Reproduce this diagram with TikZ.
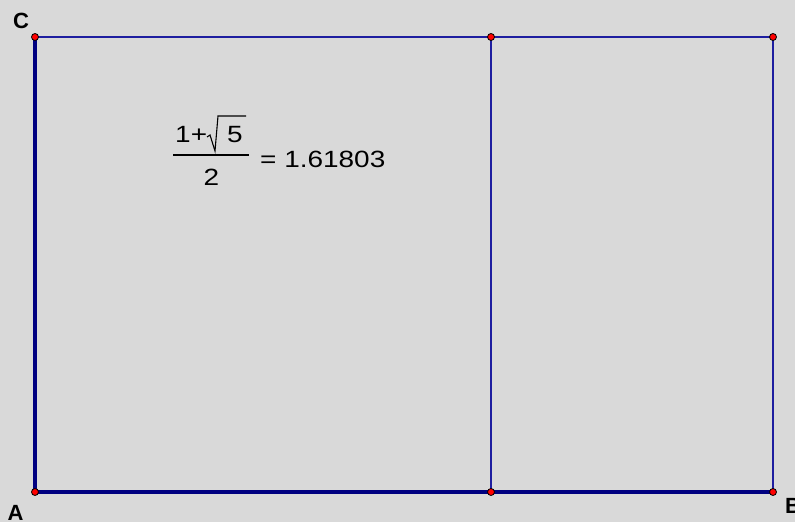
\documentclass[tikz,border=0pt]{standalone}
\usepackage{fontspec}
\setmainfont{Liberation Sans}
\newfontfamily\widefont[FakeStretch=1.19]{Liberation Sans}
\definecolor{bg}{RGB}{217,217,217}
\definecolor{edge}{RGB}{0,0,128}
\definecolor{thinedge}{RGB}{30,30,160}
\definecolor{pt}{RGB}{255,0,0}
\tikzset{
  thickedge/.style={draw=edge, line width=4pt},
  thinline/.style={draw=thinedge, line width=1.3pt},
  vertex/.style={circle, fill=pt, draw=black, line width=0.8pt, inner sep=0pt, minimum size=7pt},
  lbl/.style={font=\fontsize{22}{22}\selectfont\bfseries, inner sep=0pt},
  formula/.style={font=\widefont\fontsize{23.5}{23.5}\selectfont, inner sep=0pt, anchor=base}
}
\begin{document}
\begin{tikzpicture}[x=1pt,y=1pt]
\fill[bg] (0,0) rectangle (795,522);
\useasboundingbox (0,0) rectangle (795,522);
\coordinate (A) at (35,30);
\coordinate (C) at (35,485);
\coordinate (T) at (491,485);
\coordinate (R) at (773,485);
\coordinate (M) at (491,30);
\coordinate (B) at (773,30);
% thin lines
\draw[thinline] (C) -- (R);
\draw[thinline] (T) -- (M);
\draw[thinline] (R) -- (B);
% thick lines
\draw[thickedge] (A) -- (C);
\draw[thickedge] (A) -- (B);
% points
\foreach \p in {A,C,T,R,M,B} \node[vertex] at (\p) {};
% labels
\node[lbl] (lC) at (21,501) {C};
\node[lbl] (lA) at (15.5,9.5) {A};
\node[lbl] (lB) at (793,16) {B};
% formula
\node[formula, anchor=base west] (one) at (175,522-143) {1+};
\node[formula, anchor=base west] (five) at (227,522-143) {5};
\draw[line width=1.1pt, line join=miter] (207,522-137) -- (210,522-135) -- (215,522-151) -- (218,522-116) -- (246,522-116);
\draw[line width=2.2pt] (173,522-155) -- (249,522-155);
\node[formula] (two) at (211.5,522-186) {2};
\node[formula, anchor=base west] (val) at (260,522-168) {= 1.61803};
\end{tikzpicture}
\end{document}
